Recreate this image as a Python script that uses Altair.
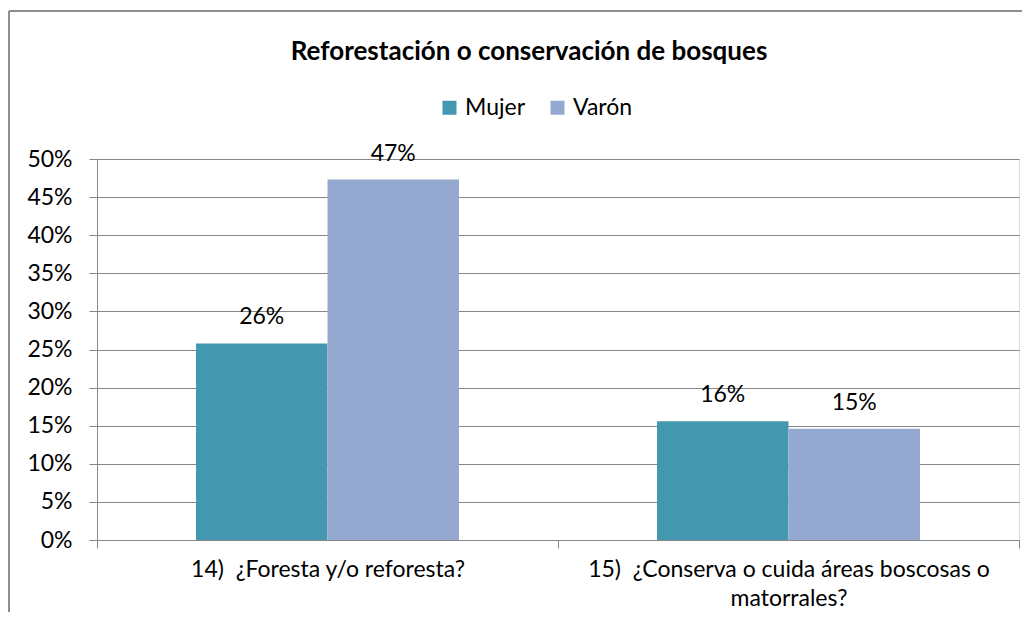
import altair as alt
import pandas as pd

categories = [
    "14)\u00a0 ¿Foresta y/o reforesta?",
    "15)\u00a0 ¿Conserva o cuida áreas boscosas o|matorrales?",
]
series = ["Mujer", "Varón"]
mujer = [0.258, 0.156]
varon = [0.473, 0.146]
y_ticks = [0, 0.05, 0.10, 0.15, 0.20, 0.25, 0.30, 0.35, 0.40, 0.45, 0.50]
colors = ["#4398AF", "#95A9D0"]
title_text = "Reforestación o conservación de bosques"

rows = []
for i, c in enumerate(categories):
    rows.append({"cat": c, "serie": series[0], "val": mujer[i]})
    rows.append({"cat": c, "serie": series[1], "val": varon[i]})
df = pd.DataFrame(rows)

FONT = "Lato"
GRAY = "#868686"
FS = 23
W, H = 922, 381

x_enc = alt.X(
    "cat:N", sort=categories,
    scale=alt.Scale(paddingInner=0, paddingOuter=0),
    axis=alt.Axis(
        title=None, labelAngle=0, labelExpr="split(datum.label, '|')",
        tickBand="extent", tickSize=8, tickColor=GRAY, domainColor=GRAY,
        labelFont=FONT, labelFontSize=FS, labelColor="#000000",
        labelPadding=10, labelLineHeight=29, labelLimit=0, grid=False,
    ),
)
xo_enc = alt.XOffset("serie:N", sort=series,
                     scale=alt.Scale(paddingInner=0, paddingOuter=0.753))
y_enc = alt.Y(
    "val:Q", scale=alt.Scale(domain=[0, 0.5], nice=False),
    axis=alt.Axis(
        values=y_ticks, format=".0%", title=None, tickSize=8, tickColor=GRAY,
        domainColor=GRAY, gridColor=GRAY, gridOpacity=1, labelPadding=17,
        labelFont=FONT, labelFontSize=FS, labelColor="#000000",
    ),
)
color_enc = alt.Color(
    "serie:N", sort=series,
    scale=alt.Scale(domain=series, range=colors),
    legend=alt.Legend(
        title=None, orient="none", direction="horizontal",
        legendX=341, legendY=-63, symbolType="square", symbolSize=196,
        symbolStrokeWidth=0, labelFont=FONT, labelFontSize=FS,
        labelColor="#000000", columnPadding=20, labelOffset=4, padding=0,
    ),
)

base = alt.Chart(df)
bars = base.mark_bar().encode(x=x_enc, xOffset=xo_enc, y=y_enc, color=color_enc)
labels = base.mark_text(baseline="bottom", dy=-14, font=FONT, fontSize=FS,
                        color="#000000").encode(
    x=x_enc, xOffset=xo_enc, y=y_enc, text=alt.Text("val:Q", format=".0%"))

frame_left = base.mark_rule(color="#8C8C8C", strokeWidth=1.5).encode(
    x=alt.value(-88), y=alt.value(-148), y2=alt.value(453))
frame_top = base.mark_rule(color="#8C8C8C", strokeWidth=1.5).encode(
    x=alt.value(-88), x2=alt.value(925), y=alt.value(-148))

chart = alt.layer(frame_left, frame_top, bars, labels).properties(
    width=W, height=H,
    padding={"left": 0, "top": 2, "right": 0, "bottom": 0},
    title=alt.TitleParams(title_text, font=FONT, fontSize=26, fontWeight="bold",
                          color="#000000", offset=-55, dx=-29),
).configure_view(stroke=None).configure(background="white")

chart.save("out.html", embed_options={"renderer": "svg", "actions": False})
